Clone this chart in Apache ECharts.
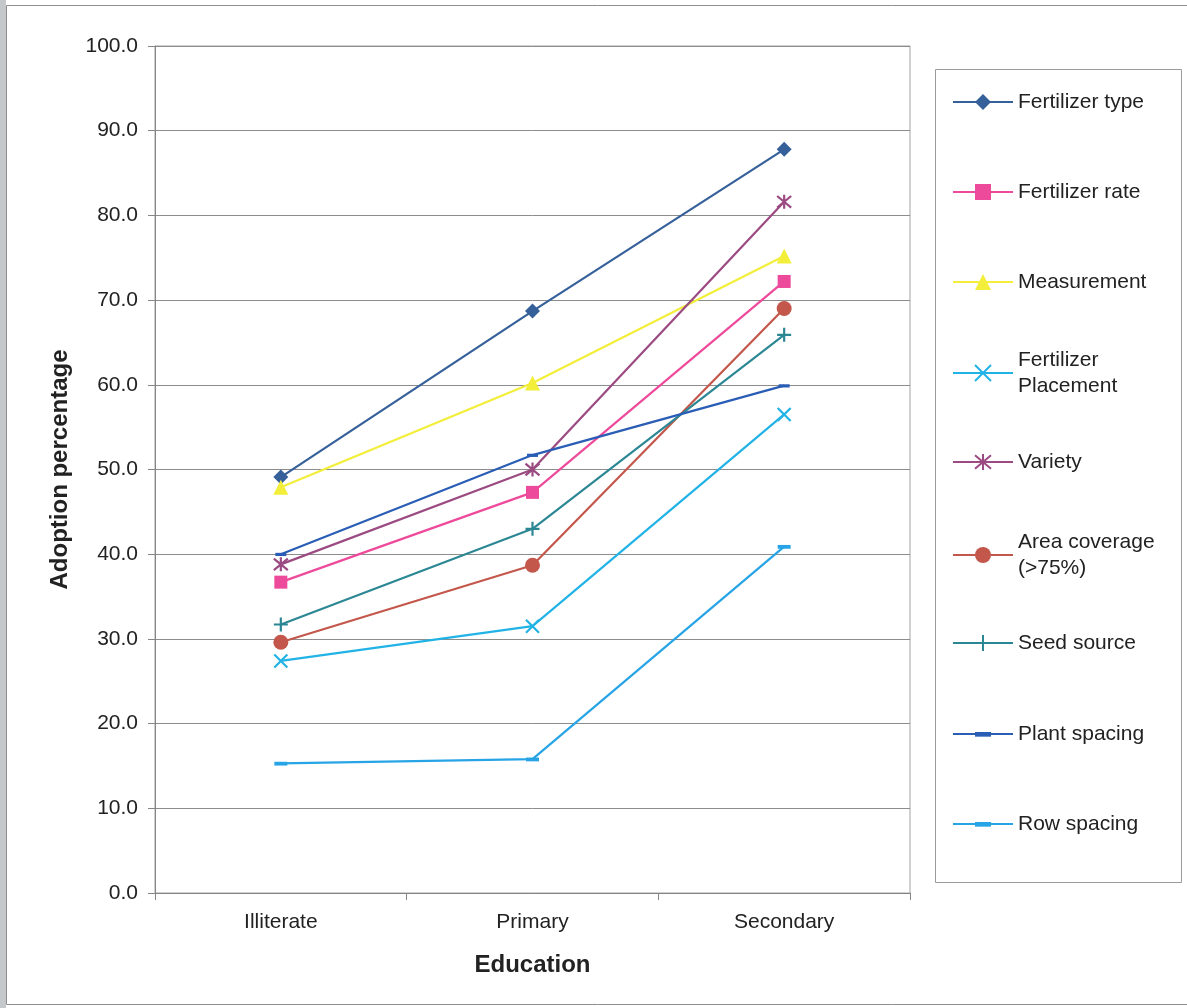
<!DOCTYPE html>
<html>
<head>
<meta charset="utf-8">
<title>Adoption percentage by education</title>
<script src="https://cdn.jsdelivr.net/npm/echarts@6/dist/echarts.min.js"></script>
<style>
  html, body { margin: 0; padding: 0; background: #fff; }
  #chart { width: 1187px; height: 1008px; }
</style>
</head>
<body>
<div id="chart"></div>
<script>
// Education levels on the x axis
const categories = ['Illiterate', 'Primary', 'Secondary'];

// Adoption percentage for each practice, by education level
const fertilizerType      = [49.1, 68.7, 87.8];
const fertilizerRate      = [36.7, 47.3, 72.2];
const measurement         = [47.9, 60.2, 75.2];
const fertilizerPlacement = [27.4, 31.5, 56.5];
const variety             = [38.8, 50.0, 81.6];
const areaCoverage        = [29.6, 38.7, 69.0];
const seedSource          = [31.7, 43.0, 65.9];
const plantSpacing        = [40.0, 51.7, 59.9];
const rowSpacing          = [15.3, 15.8, 40.9];

const yTicks = [0, 10, 20, 30, 40, 50, 60, 70, 80, 90, 100];

const FONT = '"Liberation Sans", Arial, sans-serif';

// marker shapes not built into ECharts
const SYM_X = 'path://M0,0L10,10M10,0L0,10';
const SYM_STAR = 'path://M0,0L10,10M10,0L0,10M5,-1L5,11';
const SYM_PLUS = 'path://M5,0L5,10M0,5L10,5';
const SYM_DASH = 'path://M0,0M12,12M0,4.5h12v3.5h-12z';

const seriesDefs = [
  { name: 'Fertilizer type',      data: fertilizerType,      color: '#35609A', symbol: 'diamond',  size: 15, stroke: false },
  { name: 'Fertilizer rate',      data: fertilizerRate,      color: '#EE4A9B', symbol: 'rect',     size: 13, stroke: false },
  { name: 'Measurement',          data: measurement,         color: '#F2EE3A', symbol: 'triangle', size: 15, stroke: false },
  { name: 'Fertilizer Placement', data: fertilizerPlacement, color: '#22B3E6', symbol: SYM_X,      size: 13, stroke: true  },
  { name: 'Variety',              data: variety,             color: '#9B4A82', symbol: SYM_STAR,   size: 14, stroke: true  },
  { name: 'Area coverage (>75%)', data: areaCoverage,        color: '#C4574B', symbol: 'circle',   size: 15, stroke: false },
  { name: 'Seed source',          data: seedSource,          color: '#2C8794', symbol: SYM_PLUS,   size: 14, stroke: true  },
  { name: 'Plant spacing',        data: plantSpacing,        color: '#2A5DB5', symbol: SYM_DASH,   size: 11, stroke: false },
  { name: 'Row spacing',          data: rowSpacing,          color: '#27A4E6', symbol: SYM_DASH,   size: 13, stroke: false }
];

// two-line legend labels
const legendLabels = {
  'Fertilizer Placement': 'Fertilizer\nPlacement',
  'Area coverage (>75%)': 'Area coverage\n(>75%)'
};

// vertical centre of each legend entry
const legendRows = [102, 192, 282, 373, 462, 555, 643, 734, 824];

const series = seriesDefs.map(d => ({
  name: d.name,
  type: 'line',
  data: d.data,
  color: d.color,
  symbol: d.symbol,
  symbolSize: d.size,
  showSymbol: true,
  z: 2,
  lineStyle: { color: d.color, width: 2.2 },
  itemStyle: d.stroke
    ? { color: d.color, borderColor: d.color, borderWidth: 2.2 }
    : { color: d.color, borderWidth: 0 },
  emphasis: { disabled: true }
}));

const LINE_H = 26;
const legends = seriesDefs.map((d, i) => {
  const twoLine = !!legendLabels[d.name];
  return {
    orient: 'vertical',
    left: 952,
    top: legendRows[i] - (twoLine ? LINE_H * 1.5 : LINE_H / 2),
    padding: 0,
    itemWidth: 60,
    itemHeight: 20,
    itemGap: 0,
    selectedMode: false,
    formatter: name => legendLabels[name] || name,
    textStyle: {
      fontFamily: FONT,
      fontSize: 21,
      color: '#222222',
      lineHeight: LINE_H,
      padding: twoLine ? [LINE_H, 0, 0, 0] : 0
    },
    data: [d.name]
  };
});

const chart = echarts.init(document.getElementById('chart'), null, { renderer: 'canvas' });

chart.setOption({
  backgroundColor: '#ffffff',
  animation: false,
  grid: {
    left: 155,
    right: 277,
    top: 46,
    bottom: 115,
    show: true,
    borderColor: '#a3a3a3',
    borderWidth: 1,
    backgroundColor: 'transparent'
  },
  legend: legends,
  xAxis: {
    type: 'category',
    data: categories,
    boundaryGap: true,
    name: 'Education',
    nameLocation: 'middle',
    nameGap: 60,
    nameTextStyle: { fontFamily: FONT, fontSize: 24, fontWeight: 'bold', color: '#222222' },
    axisLine: { lineStyle: { color: '#858585', width: 1 } },
    axisTick: { show: true, length: 7, alignWithLabel: false, lineStyle: { color: '#858585' } },
    axisLabel: { fontFamily: FONT, fontSize: 21, color: '#222222', margin: 19 },
    splitLine: { show: false }
  },
  yAxis: {
    type: 'value',
    min: yTicks[0],
    max: yTicks[yTicks.length - 1],
    interval: yTicks[1] - yTicks[0],
    name: 'Adoption percentage',
    nameLocation: 'middle',
    nameGap: 83,
    nameTextStyle: { fontFamily: FONT, fontSize: 24, fontWeight: 'bold', color: '#222222' },
    axisLine: { show: true, lineStyle: { color: '#858585', width: 1 } },
    axisTick: { show: true, length: 7, lineStyle: { color: '#858585' } },
    axisLabel: {
      fontFamily: FONT, fontSize: 21, color: '#222222', margin: 17,
      formatter: v => v.toFixed(1)
    },
    splitLine: { show: true, lineStyle: { color: '#8c8c8c', width: 1 } }
  },
  graphic: [
    // page edge on the left
    { type: 'rect', silent: true, z: -10, shape: { x: 0, y: 0, width: 6, height: 1008 },
      style: { fill: '#c4c8cb' } },
    // outer chart frame
    { type: 'rect', silent: true, z: -9, shape: { x: 6.5, y: 5.5, width: 1200, height: 999 },
      style: { fill: 'none', stroke: '#8e8e8e', lineWidth: 1 } },
    // legend box
    { type: 'rect', silent: true, z: -5, shape: { x: 935.5, y: 69.5, width: 246, height: 813 },
      style: { fill: '#ffffff', stroke: '#9a9a9a', lineWidth: 1 } }
  ],
  series: series
});
</script>
</body>
</html>
